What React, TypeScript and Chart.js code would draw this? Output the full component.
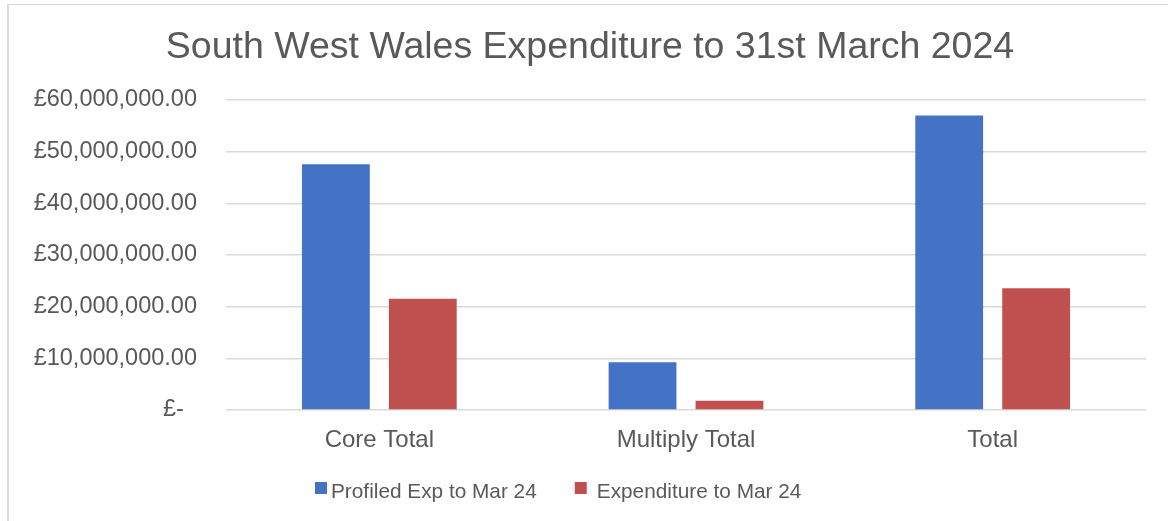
import React, { useEffect, useRef } from 'react';
import { Chart, registerables } from 'chart.js';

Chart.register(...registerables);

const titleText = 'South West Wales Expenditure to 31st March 2024';
const categories = ['Core Total', 'Multiply Total', 'Total'];
const seriesLabels = ['Profiled Exp to Mar 24', 'Expenditure to Mar 24'];
const profiledExp = [47550000, 9230000, 57000000];
const expenditure = [21550000, 1800000, 23550000];
const seriesColors = ['#4472C4', '#C0504D'];
const yMin = 0;
const yMax = 60000000;
const yStep = 10000000;

const FONT = '"Liberation Sans", Arial, sans-serif';
const TEXT = '#595959';

function formatMoney(v: number): string {
  if (v === 0) return '£-  ';
  const fixed = v.toFixed(2);
  const [intPart, dec] = fixed.split('.');
  const withCommas = intPart.replace(/\B(?=(\d{3})+(?!\d))/g, ',');
  return '£' + withCommas + '.' + dec;
}

const decorPlugin = {
  id: 'decor',
  afterDraw(chart: any) {
    const ctx = chart.ctx as CanvasRenderingContext2D;
    ctx.save();
    // outer frame
    ctx.fillStyle = '#d9d9d9';
    ctx.fillRect(7, 4, 2, 521);
    ctx.fillRect(7, 4, 1168, 1);
    // title
    ctx.fillStyle = TEXT;
    ctx.font = `37.5px ${FONT}`;
    ctx.textAlign = 'center';
    ctx.textBaseline = 'alphabetic';
    ctx.fillText(titleText, 590, 58);
    // legend
    ctx.font = `20.8px ${FONT}`;
    ctx.textAlign = 'left';
    let x = 315;
    const datasets = chart.data.datasets;
    datasets.forEach((ds: any, i: number) => {
      ctx.fillStyle = ds.backgroundColor;
      ctx.fillRect(x, 482, 12, 12);
      const tx = x + (i === 0 ? 16 : 22);
      ctx.fillStyle = TEXT;
      ctx.fillText(ds.label, tx, 498);
      x = tx + ctx.measureText(ds.label).width + 38;
    });
    ctx.restore();
  },
};

export default function App() {
  const canvasRef = useRef<HTMLCanvasElement | null>(null);

  useEffect(() => {
    const canvas = canvasRef.current;
    if (!canvas) return;
    const chart = new Chart(canvas, {
      type: 'bar',
      data: {
        labels: categories,
        datasets: [
          {
            label: seriesLabels[0],
            data: profiledExp,
            backgroundColor: seriesColors[0],
            categoryPercentage: 0.567,
            barPercentage: 0.78,
          },
          {
            label: seriesLabels[1],
            data: expenditure,
            backgroundColor: seriesColors[1],
            categoryPercentage: 0.567,
            barPercentage: 0.78,
          },
        ],
      },
      options: {
        responsive: false,
        animation: false,
        devicePixelRatio: 1,
        layout: { padding: { left: 0, right: 22, top: 100, bottom: 61 } },
        plugins: {
          legend: { display: false },
          title: { display: false },
          tooltip: { enabled: false },
        },
        scales: {
          x: {
            grid: { display: false },
            border: { display: false },
            ticks: {
              color: TEXT,
              font: { family: FONT, size: 24 },
              padding: 8,
            },
            afterFit: (s: any) => {
              s.height = 50;
            },
          },
          y: {
            min: yMin,
            max: yMax,
            grid: { color: '#d9d9d9', lineWidth: 1.5, drawTicks: false },
            border: { display: false },
            ticks: {
              stepSize: yStep,
              color: TEXT,
              font: { family: FONT, size: 23.5 },
              padding: 29,
              callback: (v: any) => formatMoney(Number(v)),
            },
            afterFit: (s: any) => {
              s.width = 226;
            },
          },
        },
      },
      plugins: [decorPlugin],
    });
    return () => chart.destroy();
  }, []);

  return (
    <div style={{ position: 'fixed', left: 0, top: 0, width: 1168, height: 521, background: '#fff' }}>
      <canvas ref={canvasRef} width={1168} height={521} />
    </div>
  );
}
